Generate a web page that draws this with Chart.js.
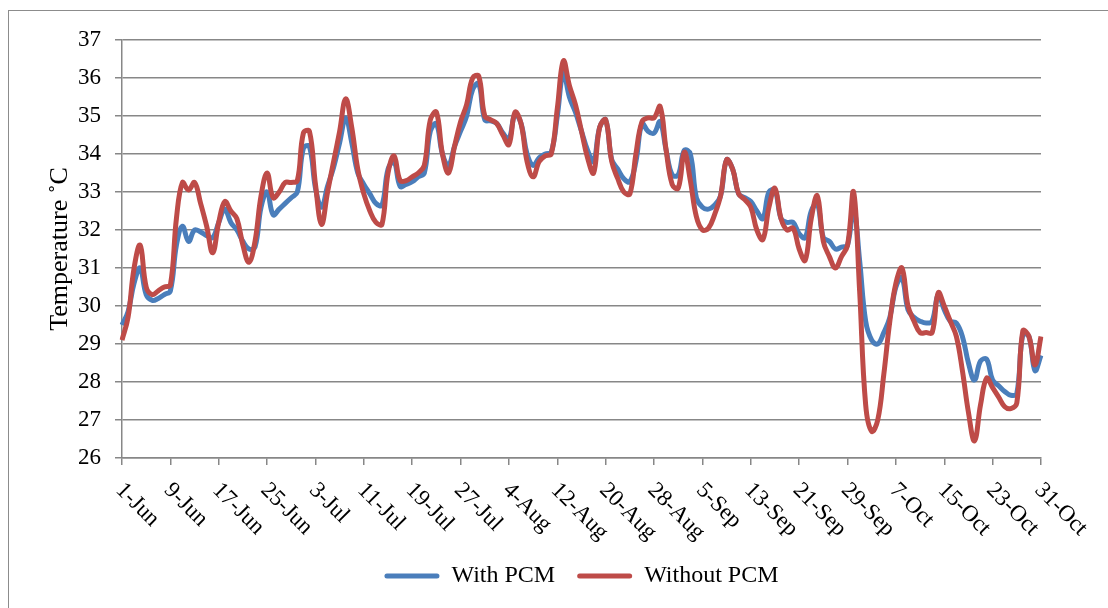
<!DOCTYPE html>
<html>
<head>
<meta charset="utf-8">
<title>Temperature with and without PCM</title>
<script src="https://cdn.jsdelivr.net/npm/chart.js@4.4.0/dist/chart.umd.min.js"></script>
<style>
    html, body { margin: 0; padding: 0; background: #fff; }
    .wrap { position: relative; width: 1108px; height: 608px; overflow: hidden; }
    .frame { position: absolute; left: 8px; top: 10px; width: 1200px; height: 700px; border: 1.5px solid #8c8c8c; }
    #tempChart { position: absolute; left: 0; top: 0; }
</style>
</head>
<body>
<div class="wrap">
    <div class="frame"></div>
    <canvas id="tempChart" width="1108" height="608"></canvas>
</div>
<script>
// ==================== DATA ====================

const months = ['Jun', 'Jul', 'Aug', 'Sep', 'Oct'];
const monthDays = [30, 31, 31, 30, 31];

const tickLabels = ['1-Jun', '9-Jun', '17-Jun', '25-Jun', '3-Jul', '11-Jul', '19-Jul', '27-Jul',
    '4-Aug', '12-Aug', '20-Aug', '28-Aug', '5-Sep', '13-Sep', '21-Sep', '29-Sep',
    '7-Oct', '15-Oct', '23-Oct', '31-Oct'];

// Daily temperature, 1-Jun .. 31-Oct
const withPCM = [
    29.5, 29.85, 30.6, 31.0, 30.3, 30.15, 30.2, 30.3, 30.4, 31.6,
    32.1, 31.7, 32.0, 31.95, 31.85, 31.8, 32.2, 32.55, 32.2, 32.0,
    31.7, 31.5, 31.55, 32.6, 33.0, 32.4, 32.55, 32.7, 32.85, 33.0,
    34.15, 34.2, 33.1, 32.6, 33.15, 33.65, 34.3, 34.95, 34.3, 33.5,
    33.2, 32.95, 32.7, 32.65, 33.6, 33.8, 33.15, 33.2, 33.27, 33.4,
    33.5, 34.6, 34.8, 34.0, 33.7, 34.2, 34.6, 35.0, 35.7, 35.85,
    34.9, 34.87, 34.8, 34.55, 34.4, 35.05, 34.8, 34.0, 33.7, 33.9,
    34.0, 34.05, 35.0, 36.15, 35.5, 35.1, 34.6, 34.1, 33.8, 34.7,
    34.9, 33.85, 33.6, 33.35, 33.27, 33.8, 34.8, 34.6, 34.55, 34.85,
    34.1, 33.45, 33.45, 34.1, 34.0, 32.85, 32.6, 32.55, 32.65, 32.9,
    33.85, 33.6, 32.95, 32.85, 32.75, 32.5, 32.3, 33.0, 33.05, 32.3,
    32.2, 32.2, 31.9, 31.8, 32.5, 32.7, 31.8, 31.7, 31.5, 31.55,
    31.6, 32.6, 31.2, 29.6, 29.1, 29.0, 29.3, 29.7, 30.5, 30.75,
    29.9, 29.7, 29.6, 29.55, 29.6, 30.3, 29.9, 29.6, 29.55, 29.2,
    28.5, 28.05, 28.55, 28.6, 28.05, 27.9, 27.75, 27.65, 27.7, 29.25,
    29.2, 28.3, 28.7
];

const withoutPCM = [
    29.1, 29.7, 31.0, 31.6, 30.5, 30.3, 30.4, 30.5, 30.55, 32.3,
    33.25, 33.05, 33.25, 32.7, 32.1, 31.4, 32.2, 32.75, 32.5, 32.3,
    31.6, 31.15, 31.7, 32.9, 33.5, 32.85, 33.0, 33.25, 33.25, 33.3,
    34.55, 34.6, 33.2, 32.15, 33.0, 33.8, 34.6, 35.45, 34.7, 33.6,
    32.95, 32.5, 32.2, 32.15, 33.5, 33.95, 33.3, 33.3, 33.4, 33.5,
    33.7, 34.9, 35.1, 34.0, 33.5, 34.2, 34.85, 35.3, 36.0, 36.05,
    35.0, 34.9, 34.8, 34.5, 34.25, 35.1, 34.8, 33.8, 33.4, 33.8,
    33.95, 34.0, 35.2, 36.45, 35.8, 35.3, 34.6, 33.9, 33.5, 34.7,
    34.9, 33.8, 33.35, 33.0, 32.95, 34.0, 34.85, 34.95, 34.95, 35.25,
    34.1, 33.2, 33.1, 34.05, 33.3, 32.35, 32.0, 32.05, 32.4, 32.9,
    33.85, 33.6, 32.95, 32.8, 32.6, 32.0, 31.75, 32.6, 33.1, 32.3,
    32.0, 32.05, 31.5, 31.2, 32.3, 32.9, 31.7, 31.3, 31.0, 31.3,
    31.6, 33.0, 30.4, 27.4, 26.7, 27.0, 28.2, 29.6, 30.6, 31.0,
    30.0, 29.6, 29.3, 29.3, 29.3, 30.35, 30.0, 29.6, 29.2, 28.3,
    27.2, 26.45, 27.4, 28.1, 27.85, 27.6, 27.35, 27.3, 27.45, 29.35,
    29.2, 28.45, 29.2
];

// Build the daily category labels (1-Jun, 2-Jun, ...)
const days = [];
months.forEach((m, i) => {
    for (let d = 1; d <= monthDays[i]; d++) days.push(d + '-' + m);
});

const gridGray = '#878787';
const serif = '"Liberation Serif", "Times New Roman", serif';

// Draw slanted date labels (text runs down-right from each tick)
const dateLabelsPlugin = {
    id: 'dateLabels',
    afterDraw(chart) {
        const xScale = chart.scales.x;
        const ctx = chart.ctx;
        ctx.save();
        ctx.font = '23px ' + serif;
        ctx.fillStyle = '#000';
        ctx.textAlign = 'left';
        ctx.textBaseline = 'alphabetic';
        tickLabels.forEach(label => {
            const x = xScale.getPixelForValue(days.indexOf(label));
            ctx.save();
            ctx.translate(x - 7, xScale.top + 33);
            ctx.rotate(Math.PI / 4);
            ctx.fillText(label, 0, 0);
            ctx.restore();
        });
        ctx.restore();
    }
};

// Create the temperature chart
function createTempChart() {
    const ctx = document.getElementById('tempChart').getContext('2d');

    new Chart(ctx, {
        type: 'line',
        data: {
            labels: days,
            datasets: [{
                label: 'With PCM',
                data: withPCM,
                borderColor: '#4a7ebb',
                backgroundColor: '#4a7ebb',
                borderWidth: 5,
                pointRadius: 0,
                tension: 0.4,
                order: 1
            }, {
                label: 'Without PCM',
                data: withoutPCM,
                borderColor: '#be4b48',
                backgroundColor: '#be4b48',
                borderWidth: 5,
                pointRadius: 0,
                tension: 0.4,
                order: 0
            }]
        },
        options: {
            responsive: false,
            animation: false,
            layout: {
                padding: { left: 40, right: 67, top: 40, bottom: 10 }
            },
            plugins: {
                tooltip: { enabled: false },
                legend: {
                    position: 'bottom',
                    fullSize: false,
                    labels: {
                        boxWidth: 55,
                        boxHeight: 5,
                        padding: 22,
                        color: '#000',
                        font: { family: serif, size: 24 },
                        sort: (a, b) => a.datasetIndex - b.datasetIndex,
                        generateLabels: chart => Chart.defaults.plugins.legend.labels.generateLabels(chart)
                            .map(l => ({ ...l, lineWidth: 0, borderRadius: 2.5 }))
                    }
                }
            },
            scales: {
                x: {
                    afterFit: scale => { scale.height = 84; },
                    ticks: { display: false, autoSkip: false },
                    grid: {
                        drawOnChartArea: false,
                        drawTicks: true,
                        tickLength: 7,
                        lineWidth: 1.5,
                        color: c => (c.index % 8 === 0 ? gridGray : 'rgba(0,0,0,0)')
                    },
                    border: { color: gridGray, width: 1.5 }
                },
                y: {
                    min: 26,
                    max: 37,
                    afterFit: scale => { scale.width = 82; },
                    ticks: {
                        stepSize: 1,
                        padding: 14,
                        color: '#000',
                        font: { family: serif, size: 23 }
                    },
                    grid: {
                        color: gridGray,
                        lineWidth: 1.5,
                        tickLength: 7
                    },
                    border: { color: gridGray, width: 1.5 },
                    title: {
                        display: true,
                        text: 'Temperature ˚C',
                        color: '#000',
                        padding: { top: 5, bottom: 4 },
                        font: { family: serif, size: 26 }
                    }
                }
            }
        },
        plugins: [dateLabelsPlugin]
    });
}

document.addEventListener('DOMContentLoaded', createTempChart);
</script>
</body>
</html>
